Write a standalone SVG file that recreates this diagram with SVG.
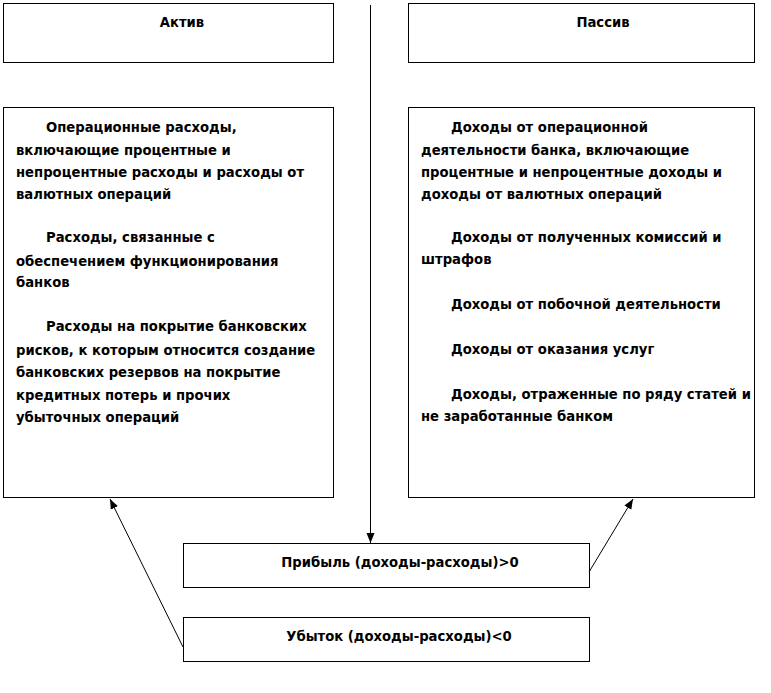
<svg xmlns="http://www.w3.org/2000/svg" width="771" height="693" viewBox="0 0 771 693">
<defs>
<marker id="ah" viewBox="0 0 10 10" refX="10" refY="5" markerWidth="10" markerHeight="10" markerUnits="userSpaceOnUse" orient="auto">
<path d="M0,1 L10,5 L0,9 Z" fill="#000"/>
</marker>
</defs>
<style>
.box{fill:#fff;stroke:#000;stroke-width:1}
text{font-family:"DejaVu Sans",Verdana,sans-serif;font-weight:bold;font-size:13.2px;fill:#000}
.c{text-anchor:middle}
.ln{stroke:#000;stroke-width:1;fill:none}
</style>
<rect width="771" height="693" fill="#fff"/>
<g id="aktiv">
<rect class="box" x="3.5" y="3.5" width="330" height="59"/>
<text class="c" x="182" y="27">Актив</text>
</g>
<g id="passiv">
<rect class="box" x="408.5" y="3.5" width="346" height="59"/>
<text class="c" x="603" y="27">Пассив</text>
</g>
<g id="rashody">
<rect class="box" x="3.5" y="107.5" width="330" height="390"/>
<text x="46" y="132">Операционные расходы,</text>
<text x="16" y="155">включающие процентные и</text>
<text x="16" y="177">непроцентные расходы и расходы от</text>
<text x="16" y="199">валютных операций</text>
<text x="46" y="242">Расходы, связанные с</text>
<text x="16" y="266">обеспечением функционирования</text>
<text x="16" y="287">банков</text>
<text x="46" y="331">Расходы на покрытие банковских</text>
<text x="16" y="355">рисков, к которым относится создание</text>
<text x="16" y="377">банковских резервов на покрытие</text>
<text x="16" y="400">кредитных потерь и прочих</text>
<text x="16" y="422">убыточных операций</text>
</g>
<g id="dohody">
<rect class="box" x="408.5" y="107.5" width="346" height="390"/>
<text x="451" y="132">Доходы от операционной</text>
<text x="421" y="155">деятельности банка, включающие</text>
<text x="421" y="177">процентные и непроцентные доходы и</text>
<text x="421" y="199">доходы от валютных операций</text>
<text x="451" y="242">Доходы от полученных комиссий и</text>
<text x="421" y="264">штрафов</text>
<text x="451" y="309">Доходы от побочной деятельности</text>
<text x="451" y="354">Доходы от оказания услуг</text>
<text x="451" y="399">Доходы, отраженные по ряду статей и</text>
<text x="421" y="421">не заработанные банком</text>
</g>
<g id="pribyl">
<rect class="box" x="183.5" y="543.5" width="406" height="44"/>
<text class="c" x="400" y="567">Прибыль (доходы-расходы)&gt;0</text>
</g>
<g id="ubytok">
<rect class="box" x="183.5" y="617.5" width="406" height="44"/>
<text class="c" x="399" y="641">Убыток (доходы-расходы)&lt;0</text>
</g>
<g id="connectors">
<line class="ln" x1="370.5" y1="5" x2="370.5" y2="543" marker-end="url(#ah)"/>
<line class="ln" x1="183" y1="647" x2="110" y2="499" marker-end="url(#ah)"/>
<line class="ln" x1="589" y1="572" x2="633" y2="499" marker-end="url(#ah)"/>
</g>
</svg>
